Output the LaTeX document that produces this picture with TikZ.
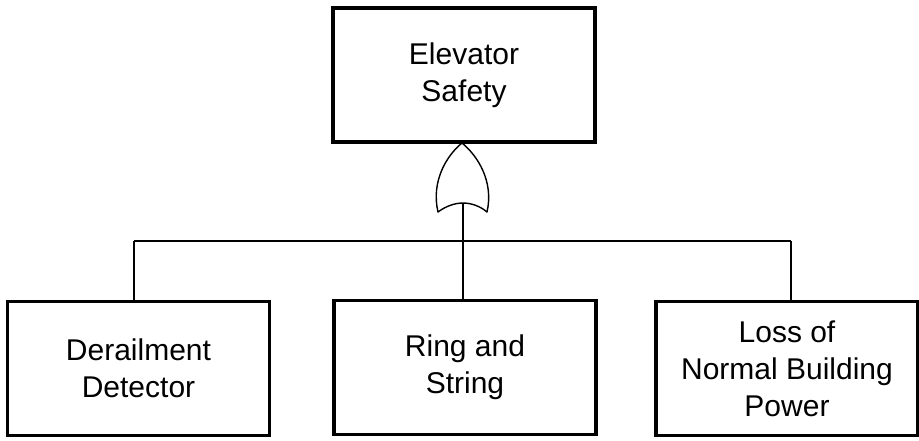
\documentclass[tikz,border=0pt]{standalone}
\usepackage{fontspec}
\setmainfont{Liberation Sans}
\begin{document}
\begin{tikzpicture}[x=1pt,y=-1pt,
  evbox/.style={draw=black,line width=3.5pt,rectangle,minimum width=262pt,minimum height=134pt,
    inner sep=0pt,outer sep=0pt,align=center,font=\fontsize{30pt}{37pt}\selectfont},
  conn/.style={draw=black,line width=1.4pt},
  gate/.style={draw=black,line width=1.4pt,line join=round}]
\useasboundingbox (0,0) rectangle (919,440);
% boxes (centres)
\node[evbox] (top) at (464,75) {Elevator\\Safety};
\node[evbox] (der) at (138.5,368.5) {Derailment\\Detector};
\node[evbox] (ring) at (465,367.5) {Ring and\\String};
\node[evbox] (loss) at (787,368.5) {Loss of\\Normal Building\\Power};
% OR gate
\coordinate (gout) at (462,143);
\coordinate (gin) at (463,203);
\draw[gate] (gout) .. controls (446,156) and (431,182) .. (438,212)
  .. controls (446,206) and (455,203) .. (gin)
  .. controls (471,203) and (480,206) .. (487,212)
  .. controls (494,182) and (478,156) .. (gout) -- cycle;
% bus
\coordinate (bus) at (463,241);
\coordinate (busL) at (134,241);
\coordinate (busR) at (791,241);
\draw[conn] (top.south) -- (gout);
\draw[conn] (gin) -- (bus);
\draw[conn] (busL) -- (busR);
\draw[conn] (busL) -- (busL |- der.north);
\draw[conn] (bus) -- (bus |- ring.north);
\draw[conn] (busR) -- (busR |- loss.north);
\end{tikzpicture}
\end{document}
